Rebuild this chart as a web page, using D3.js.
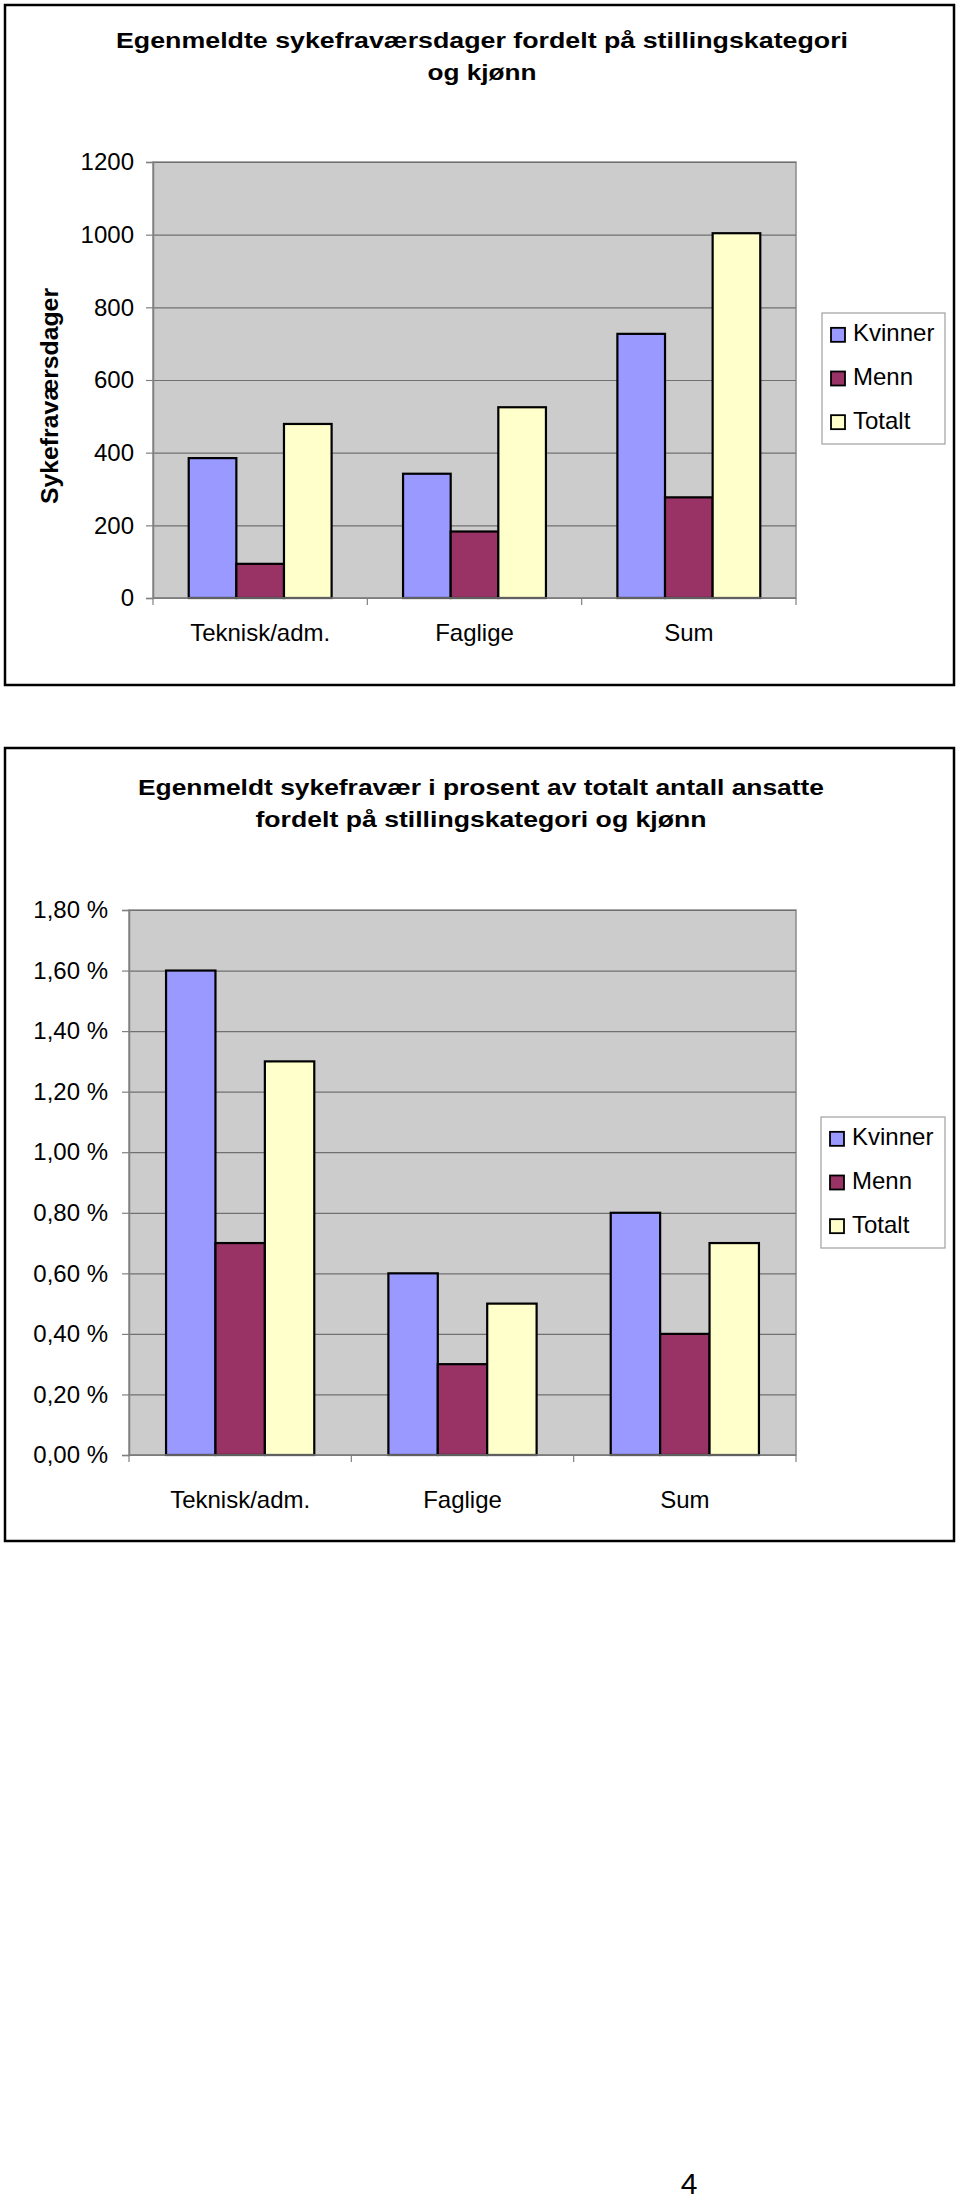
<!DOCTYPE html>
<html>
<head>
<meta charset="utf-8">
<script src="https://cdn.jsdelivr.net/npm/d3@7"></script>
<style>
body{margin:0;background:#fff;}
svg{display:block;font-family:"Liberation Sans",Arial,sans-serif;}
</style>
</head>
<body>
<div class="visHolder"></div>
<script>
// data
const categories=["Teknisk/adm.","Faglige","Sum"];
const series=["Kvinner","Menn","Totalt"];
const colors=["#9999ff","#993366","#ffffcc"];

const dagerKvinner=[385,342,727];
const dagerMenn=[94,183,277];
const dagerTotalt=[479,525,1004];
const dagerTicks=[0,200,400,600,800,1000,1200];

const prosentKvinner=[1.6,0.6,0.8];
const prosentMenn=[0.7,0.3,0.4];
const prosentTotalt=[1.3,0.5,0.7];
const prosentTicks=[0,0.2,0.4,0.6,0.8,1.0,1.2,1.4,1.6,1.8];

const W=960,H=2203,fs=24;
const svg=d3.select(".visHolder").append("svg").attr("width",W).attr("height",H);

const no=d3.formatLocale({decimal:",",thousands:" ",grouping:[3],currency:["","kr"]});

function chart(o){
  const g=svg.append("g");
  // frame
  g.append("rect").attr("x",o.box[0]).attr("y",o.box[1])
    .attr("width",o.box[2]-o.box[0]).attr("height",o.box[3]-o.box[1])
    .attr("fill","#fff").attr("stroke","#000").attr("stroke-width",2.5);

  // title, two lines
  o.title.forEach((t,i)=>{
    g.append("text").attr("x",o.titleX).attr("y",o.titleY[i])
      .attr("text-anchor","middle").attr("dominant-baseline","middle")
      .attr("font-weight","bold").attr("font-size",22)
      .attr("textLength",o.titleW[i]).attr("lengthAdjust","spacingAndGlyphs")
      .text(t);
  });

  const [l,t,r,b]=o.plot;
  const y=d3.scaleLinear().domain([0,d3.max(o.ticks)]).range([b,t]);
  const x0=d3.scaleBand().domain(categories).range([l,r]).padding(0);
  const bw=x0.bandwidth()/4.5;
  const x1=d3.scaleBand().domain(series).range([bw*0.75,x0.bandwidth()-bw*0.75]).padding(0);

  g.append("rect").attr("x",l).attr("y",t).attr("width",r-l).attr("height",b-t)
    .attr("fill","#cccccc").attr("stroke","#8c8c8c").attr("stroke-width",1.5);

  // gridlines
  g.append("g").attr("transform","translate("+l+",0)")
    .call(d3.axisLeft(y).tickValues(o.ticks).tickSize(-(r-l)).tickFormat(""))
    .call(s=>s.select(".domain").remove())
    .call(s=>s.selectAll("line").attr("stroke","#707070").attr("stroke-width",1.2));

  // y axis
  g.append("g").attr("transform","translate("+l+",0)")
    .call(d3.axisLeft(y).tickValues(o.ticks).tickSize(7).tickPadding(o.tickPad).tickFormat(o.fmt))
    .call(s=>s.select(".domain").attr("stroke","#808080").attr("stroke-width",1.5))
    .call(s=>s.selectAll("line").attr("stroke","#808080").attr("stroke-width",1.2))
    .call(s=>s.selectAll("text").attr("font-size",fs).attr("fill","#000")
      .attr("font-family","Liberation Sans, Arial, sans-serif"));

  // bars
  const rows=categories.map((c,i)=>series.map((s,j)=>({c:c,s:s,v:o.values[j][i],k:j})));
  g.append("g").selectAll("g").data(rows).join("g")
    .attr("transform",d=>"translate("+x0(d[0].c)+",0)")
    .selectAll("rect").data(d=>d).join("rect")
    .attr("x",d=>x1(d.s)).attr("width",x1.bandwidth())
    .attr("y",d=>y(d.v)).attr("height",d=>y(0)-y(d.v))
    .attr("fill",d=>colors[d.k]).attr("stroke","#000").attr("stroke-width",2.2);

  // x axis with ticks between categories
  g.append("line").attr("x1",l).attr("x2",r).attr("y1",b).attr("y2",b)
    .attr("stroke","#808080").attr("stroke-width",1.5);
  categories.concat(["end"]).forEach((c,i)=>{
    const xx=i<categories.length?x0(c):r;
    g.append("line").attr("x1",xx).attr("x2",xx).attr("y1",b).attr("y2",b+7)
      .attr("stroke","#808080").attr("stroke-width",1.2);
  });
  g.append("g").attr("transform","translate(0,"+b+")")
    .call(d3.axisBottom(x0).tickSize(0).tickPadding(o.xPad))
    .call(s=>s.select(".domain").remove())
    .call(s=>s.selectAll("text").attr("font-size",fs).attr("fill","#000")
      .attr("font-family","Liberation Sans, Arial, sans-serif"));

  // y title
  if(o.yTitle){
    g.append("text").attr("transform","translate("+o.yTitle.x+","+o.yTitle.y+") rotate(-90)")
      .attr("text-anchor","middle").attr("dominant-baseline","middle")
      .attr("font-weight","bold").attr("font-size",fs)
      .attr("textLength",o.yTitle.w).attr("lengthAdjust","spacingAndGlyphs")
      .text(o.yTitle.text);
  }

  // legend
  const lg=o.legend;
  g.append("rect").attr("x",lg[0]).attr("y",lg[1]).attr("width",lg[2]-lg[0]).attr("height",lg[3]-lg[1])
    .attr("fill","#fff").attr("stroke","#a0a0a0").attr("stroke-width",1.2);
  const step=(lg[3]-lg[1])/3;
  series.forEach((s,j)=>{
    const cy=lg[1]+step*(j+0.5);
    g.append("rect").attr("x",lg[0]+9).attr("y",cy-7).attr("width",14).attr("height",14)
      .attr("fill",colors[j]).attr("stroke","#000").attr("stroke-width",1.8);
    g.append("text").attr("x",lg[0]+31).attr("y",cy).attr("dominant-baseline","middle")
      .attr("font-size",fs).text(s);
  });
}

chart({
  box:[5,5,954,685],
  title:["Egenmeldte sykefraværsdager fordelt på stillingskategori","og kjønn"],
  titleX:482,titleY:[42,74],titleW:[732,109],
  plot:[153,162,796,598],
  ticks:dagerTicks,
  fmt:d3.format("d"),
  tickPad:12,xPad:26,
  values:[dagerKvinner,dagerMenn,dagerTotalt],
  yTitle:{x:52,y:396,w:216,text:"Sykefraværsdager"},
  legend:[822,313,945,444]
});
chart({
  box:[5,748,954,1541],
  title:["Egenmeldt sykefravær i prosent av totalt antall ansatte","fordelt på stillingskategori og kjønn"],
  titleX:481,titleY:[789,821],titleW:[686,451],
  plot:[129,910,796,1455],
  ticks:prosentTicks,
  fmt:d=>no.format(".2f")(d)+" %",
  tickPad:14,xPad:36,
  values:[prosentKvinner,prosentMenn,prosentTotalt],
  yTitle:null,
  legend:[821,1117,945,1248]
});

// page number
svg.append("text").attr("x",689).attr("y",2194).attr("text-anchor","middle")
  .attr("font-size",30).text("4");
</script>
</body>
</html>
